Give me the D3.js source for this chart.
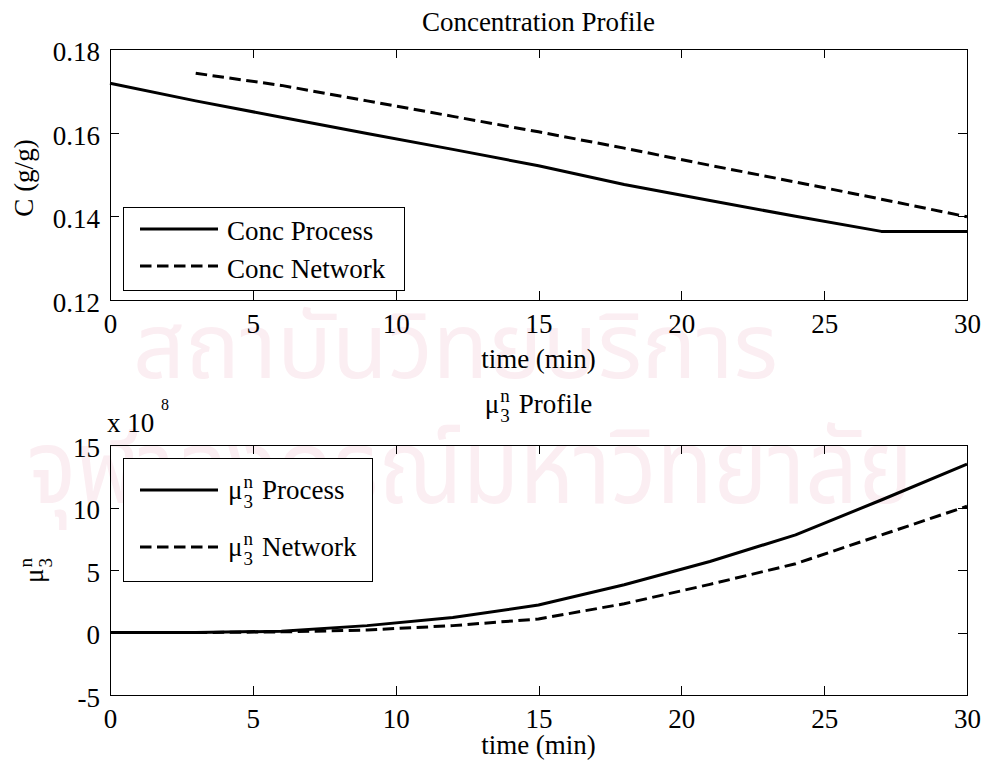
<!DOCTYPE html>
<html>
<head>
<meta charset="utf-8">
<script src="https://cdn.jsdelivr.net/npm/d3@7/dist/d3.min.js"></script>
<style>
  html, body { margin: 0; padding: 0; background: #fff; }
  svg { display: block; }
  .axis path, .axis line { stroke: #000; stroke-width: 1; shape-rendering: crispEdges; }
  .axis text { font-family: "Liberation Serif", "Times New Roman", serif; font-size: 27px; fill: #000; }
  .serif { font-family: "Liberation Serif", "Times New Roman", serif; fill: #000; }
</style>
</head>
<body>
<svg id="chart" width="987" height="769"></svg>
<script>
// Sampling times (min)
const timeMin = [0, 3, 6, 9, 12, 15, 18, 21, 24, 27, 30];

// Concentration (g/g)
const concProcess = [0.1718, 0.1676, 0.1637, 0.1598, 0.1560, 0.1521, 0.1476, 0.1438, 0.1400, 0.1364, 0.1364];
const concNetwork = [null, 0.1742, 0.1713, 0.1676, 0.1639, 0.1602, 0.1563, 0.1522, 0.1482, 0.1441, 0.1399];

// Third moment (x 10^8)
const mu3Process = [0, 0, 0.1, 0.55, 1.2, 2.2, 3.82, 5.68, 7.81, 10.6, 13.47];
const mu3Network = [null, 0, 0.05, 0.2, 0.55, 1.08, 2.3, 3.85, 5.5, 7.8, 10.1];

// Axis ticks
const timeTicks = [0, 5, 10, 15, 20, 25, 30];
const concTicks = [0.12, 0.14, 0.16, 0.18];
const mu3Ticks = [-5, 0, 5, 10, 15];

const svg = d3.select("#chart");
const FONT = 27;

// faint institutional watermark text
const wm = svg.append("g").attr("fill", "#fbeef2")
  .style("font-family", '"Noto Sans Thai", "Noto Sans", "DejaVu Sans", sans-serif');
wm.append("text").attr("x", 133).attr("y", 378)
  .attr("font-size", 92).attr("textLength", 645).attr("lengthAdjust", "spacingAndGlyphs")
  .text("สถาบันวิทยบริการ");
wm.append("text").attr("x", 27).attr("y", 503)
  .attr("font-size", 104).attr("textLength", 886).attr("lengthAdjust", "spacingAndGlyphs")
  .text("จุฬาลงกรณ์มหาวิทยาลัย");

const xLeft = 110, xRight = 967;

function series(t, v) {
  return t.map((d, i) => ({ t: d, v: v[i] })).filter(d => d.v !== null);
}

// Draws "μ" with stacked superscript n and subscript 3, followed by optional text.
function muText(g, x, y, rest) {
  const grp = g.append("g").attr("class", "serif");
  const mu = grp.append("text").attr("x", x).attr("y", y).attr("font-size", FONT).text("μ");
  const w = mu.node().getComputedTextLength();
  const sx = x + w + 1;
  const sup = grp.append("text").attr("x", sx).attr("y", y - 11).attr("font-size", 19).text("n");
  const sub = grp.append("text").attr("x", sx).attr("y", y + 9).attr("font-size", 19).text("3");
  const sw = Math.max(sup.node().getComputedTextLength(), sub.node().getComputedTextLength());
  let total = w + 1 + sw;
  if (rest) {
    const r = grp.append("text").attr("x", sx + sw + 9).attr("y", y).attr("font-size", FONT).text(rest);
    total += 9 + r.node().getComputedTextLength();
  }
  return { grp, total };
}

function panel(opts) {
  const x = d3.scaleLinear().domain([0, 30]).range([xLeft, xRight]);
  const y = d3.scaleLinear().domain(opts.yDomain).range([opts.bottom, opts.top]);
  const g = svg.append("g");

  // ticks point inward on all four sides
  g.append("g").attr("class", "axis").attr("transform", `translate(0,${opts.bottom})`)
    .call(d3.axisBottom(x).tickValues(timeTicks).tickSizeInner(-9).tickSizeOuter(0).tickPadding(14).tickFormat(d => String(d)))
    .call(a => a.selectAll("text").attr("dy", "0.71em"));
  g.append("g").attr("class", "axis").attr("transform", `translate(0,${opts.top})`)
    .call(d3.axisTop(x).tickValues(timeTicks).tickSizeInner(-9).tickSizeOuter(0).tickFormat(""));
  g.append("g").attr("class", "axis").attr("transform", `translate(${xLeft},0)`)
    .call(d3.axisLeft(y).tickValues(opts.yTicks).tickSizeInner(-9).tickSizeOuter(0).tickPadding(10).tickFormat(opts.yFormat))
    .call(a => a.selectAll("text").attr("dy", "0.42em"));
  g.append("g").attr("class", "axis").attr("transform", `translate(${xRight},0)`)
    .call(d3.axisRight(y).tickValues(opts.yTicks).tickSizeInner(-9).tickSizeOuter(0).tickFormat(""));

  g.append("rect").attr("x", xLeft).attr("y", opts.top)
    .attr("width", xRight - xLeft).attr("height", opts.bottom - opts.top)
    .attr("fill", "none").attr("stroke", "#000").attr("stroke-width", 1)
    .attr("shape-rendering", "crispEdges");

  const line = d3.line().x(d => x(d.t)).y(d => y(d.v));
  g.append("path").datum(series(timeMin, opts.proc)).attr("d", line)
    .attr("fill", "none").attr("stroke", "#000").attr("stroke-width", 3).attr("stroke-linejoin", "round");
  g.append("path").datum(series(timeMin, opts.net)).attr("d", line)
    .attr("fill", "none").attr("stroke", "#000").attr("stroke-width", 3)
    .attr("stroke-dasharray", "11.5,5.5");

  // x label
  g.append("text").attr("class", "serif").attr("x", (xLeft + xRight) / 2).attr("y", opts.xLabelY)
    .attr("text-anchor", "middle").attr("font-size", FONT).text("time (min)");

  // legend
  const L = opts.legend;
  g.append("rect").attr("x", L.x).attr("y", L.y).attr("width", L.w).attr("height", L.h)
    .attr("fill", "#fff").attr("stroke", "#000").attr("stroke-width", 1).attr("shape-rendering", "crispEdges");
  L.rows.forEach((r, i) => {
    g.append("line").attr("x1", 140).attr("x2", 218).attr("y1", r.ly).attr("y2", r.ly)
      .attr("stroke", "#000").attr("stroke-width", 3)
      .attr("stroke-dasharray", i === 0 ? null : "11.5,5.5");
    if (opts.muLegend) {
      muText(g, 228, r.ty, r.label);
    } else {
      g.append("text").attr("class", "serif").attr("x", 227).attr("y", r.ty)
        .attr("font-size", FONT).text(r.label);
    }
  });
  return { x, y, g };
}

// Top: concentration
panel({
  top: 49, bottom: 300, yDomain: [0.12, 0.18], yTicks: concTicks, yFormat: d3.format(".2f"),
  proc: concProcess, net: concNetwork, xLabelY: 368,
  legend: { x: 123, y: 207, w: 281, h: 83,
    rows: [{ ly: 229, ty: 240, label: "Conc Process" }, { ly: 266, ty: 278, label: "Conc Network" }] }
});
svg.append("text").attr("class", "serif").attr("x", (xLeft + xRight) / 2).attr("y", 31)
  .attr("text-anchor", "middle").attr("font-size", FONT).text("Concentration Profile");
svg.append("text").attr("class", "serif").attr("font-size", FONT)
  .attr("transform", "translate(33,178) rotate(-90)").attr("text-anchor", "middle").text("C (g/g)");

// Bottom: third moment
panel({
  top: 445, bottom: 695, yDomain: [-5, 15], yTicks: mu3Ticks, yFormat: d => String(d),
  proc: mu3Process, net: mu3Network, xLabelY: 754, muLegend: true,
  legend: { x: 123, y: 458, w: 249, h: 123,
    rows: [{ ly: 490, ty: 499, label: "Process" }, { ly: 547, ty: 556, label: "Network" }] }
});

// title, centred over the axes
const t2 = muText(svg, 0, 413, "Profile");
t2.grp.attr("transform", `translate(${(xLeft + xRight) / 2 - t2.total / 2},0)`);

// exponent label
svg.append("text").attr("class", "serif").attr("x", 107).attr("y", 432).attr("font-size", FONT).text("x 10");
svg.append("text").attr("class", "serif").attr("x", 161).attr("y", 410).attr("font-size", 16).text("8");

// rotated y label
const yl = svg.append("g").attr("transform", "translate(43,583) rotate(-90)");
muText(yl, 0, 0, null);
</script>
</body>
</html>
